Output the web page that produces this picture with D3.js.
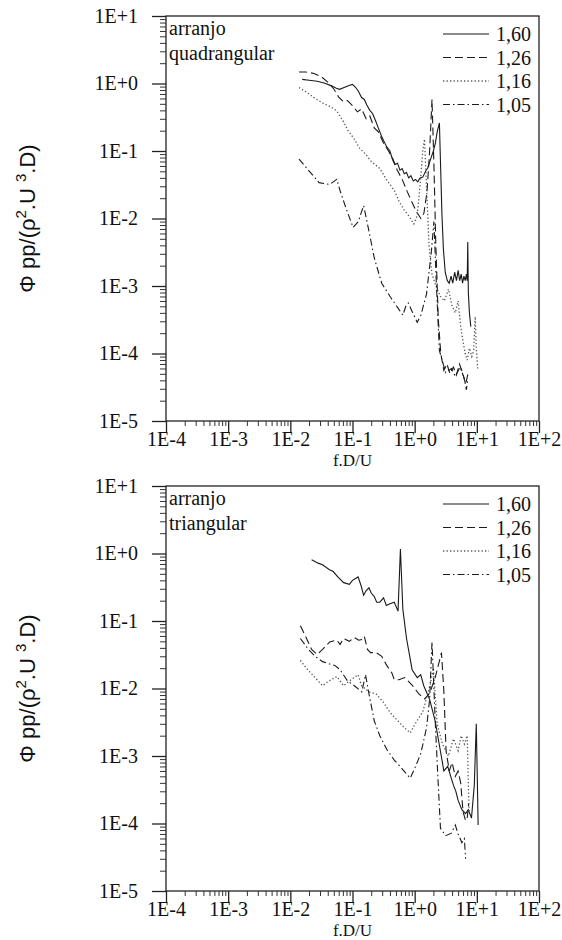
<!DOCTYPE html>
<html>
<head>
<meta charset="utf-8">
<script src="https://cdn.jsdelivr.net/npm/d3@7"></script>
<style>
  body { margin: 0; background: #fff; }
  svg { display: block; }
  text { font-family: "Liberation Serif", "Times New Roman", serif; fill: #111; }
</style>
</head>
<body>
<div id="chart"></div>
<script>
// legend labels (pitch ratio) and tick values
const pitchLabels = ["1,60", "1,26", "1,16", "1,05"];
const xTickValues = [1e-4, 1e-3, 1e-2, 1e-1, 1e0, 1e1, 1e2];
const yTickValues = [1e-5, 1e-4, 1e-3, 1e-2, 1e-1, 1e0, 1e1];

// arranjo quadrangular  [f.D/U, Phi_pp]
const quad160 = [[0.0155,1.15],[0.02,1.12],[0.027,1.08],[0.035,1.02],[0.045,0.93],[0.055,0.85],[0.062,0.82],[0.075,0.88],[0.09,0.94],[0.1,0.97],[0.112,0.88],[0.125,0.76],[0.14,0.62],[0.155,0.58],[0.17,0.48],[0.19,0.40],[0.21,0.36],[0.235,0.28],[0.26,0.22],[0.29,0.17],[0.32,0.14],[0.355,0.115],[0.4,0.10],[0.44,0.075],[0.48,0.063],[0.53,0.066],[0.58,0.052],[0.63,0.055],[0.68,0.046],[0.74,0.048],[0.8,0.040],[0.87,0.043],[0.95,0.036],[1.03,0.038],[1.12,0.035],[1.22,0.040],[1.35,0.041],[1.5,0.050],[1.62,0.056],[1.8,0.075],[2.0,0.10],[2.15,0.13],[2.3,0.19],[2.5,0.26],[2.6,0.07],[2.75,0.011],[2.9,0.0035],[3.1,0.0016],[3.35,0.0012],[3.6,0.0011],[3.85,0.0014],[4.1,0.0011],[4.4,0.0016],[4.7,0.0012],[5.0,0.0017],[5.3,0.0012],[5.6,0.0015],[5.9,0.0011],[6.2,0.0014],[6.5,0.0012],[6.8,0.0015],[7.0,0.0012],[7.15,0.0045],[7.3,0.0008],[7.6,0.0004],[8.0,0.00025]];
const quad126 = [[0.0138,1.48],[0.0178,1.48],[0.024,1.41],[0.0316,1.26],[0.04,1.05],[0.05,0.83],[0.06,0.63],[0.071,0.54],[0.083,0.56],[0.1,0.47],[0.12,0.38],[0.14,0.42],[0.166,0.30],[0.19,0.33],[0.224,0.22],[0.263,0.19],[0.316,0.13],[0.38,0.10],[0.447,0.076],[0.525,0.052],[0.63,0.038],[0.76,0.025],[0.89,0.018],[1.07,0.0126],[1.26,0.010],[1.41,0.012],[1.58,0.025],[1.74,0.10],[1.9,0.58],[2.04,0.063],[2.19,0.004],[2.4,0.00032],[2.63,0.0001],[2.95,0.000056],[3.3,0.00007],[3.7,0.00005],[4.2,0.000063],[4.7,0.000048],[5.25,0.00007],[5.9,0.000052],[6.6,0.000035],[7.2,0.00005]];
const quad116 = [[0.0138,0.87],[0.018,0.75],[0.025,0.60],[0.035,0.50],[0.045,0.45],[0.056,0.39],[0.072,0.27],[0.085,0.20],[0.107,0.15],[0.13,0.11],[0.162,0.09],[0.2,0.07],[0.275,0.055],[0.35,0.038],[0.47,0.026],[0.56,0.018],[0.69,0.013],[0.8,0.011],[0.97,0.0083],[1.1,0.011],[1.25,0.04],[1.35,0.10],[1.44,0.15],[1.55,0.03],[1.7,0.004],[1.9,0.0015],[2.2,0.001],[2.6,0.0007],[3.0,0.0006],[3.5,0.0009],[4.0,0.0005],[4.5,0.0004],[5.0,0.0006],[5.5,0.00025],[6.0,0.00015],[6.5,0.0001],[7.0,0.00008],[7.6,0.00012],[8.3,0.00009],[8.9,0.00011],[9.4,0.00035],[9.8,0.00012],[10.3,0.00006]];
const quad105 = [[0.0138,0.076],[0.0195,0.052],[0.029,0.034],[0.043,0.032],[0.056,0.038],[0.063,0.026],[0.078,0.0145],[0.102,0.0074],[0.123,0.0089],[0.151,0.0155],[0.186,0.0062],[0.224,0.0026],[0.295,0.0011],[0.41,0.00068],[0.5,0.00052],[0.54,0.00047],[0.645,0.00037],[0.72,0.0005],[0.79,0.00056],[0.91,0.00042],[1.1,0.00029],[1.26,0.00037],[1.55,0.00076],[1.86,0.0033],[2.04,0.009],[2.24,0.001],[2.5,0.00011],[3.16,0.000052],[3.9,0.00006],[4.5,0.000046],[5.4,0.000063],[6.3,0.000042],[6.8,0.000029],[7.1,0.00004]];

// arranjo triangular  [f.D/U, Phi_pp]
const tri160 = [[0.022,0.81],[0.028,0.72],[0.033,0.68],[0.042,0.58],[0.049,0.54],[0.058,0.45],[0.072,0.37],[0.089,0.35],[0.1,0.40],[0.123,0.45],[0.138,0.33],[0.151,0.24],[0.165,0.28],[0.184,0.31],[0.2,0.26],[0.224,0.23],[0.245,0.19],[0.275,0.19],[0.316,0.22],[0.35,0.17],[0.4,0.18],[0.47,0.19],[0.54,0.14],[0.59,1.17],[0.645,0.15],[0.74,0.055],[0.91,0.019],[1.1,0.0145],[1.25,0.016],[1.4,0.011],[1.74,0.0069],[2.14,0.0033],[2.45,0.0016],[2.95,0.0006],[3.4,0.0007],[3.8,0.0005],[4.2,0.00037],[4.6,0.0003],[5.0,0.00022],[5.75,0.00016],[6.6,0.00014],[7.3,0.00016],[8.2,0.00012],[9.1,0.00037],[9.8,0.003],[10.5,0.000095]];
const tri126 = [[0.0145,0.085],[0.017,0.063],[0.022,0.038],[0.027,0.032],[0.033,0.038],[0.043,0.049],[0.056,0.052],[0.063,0.045],[0.072,0.055],[0.089,0.050],[0.107,0.057],[0.126,0.052],[0.141,0.053],[0.155,0.059],[0.174,0.038],[0.195,0.034],[0.24,0.034],[0.295,0.030],[0.355,0.022],[0.43,0.017],[0.47,0.0135],[0.56,0.0135],[0.69,0.0145],[0.91,0.0112],[1.17,0.0083],[1.45,0.007],[1.74,0.0085],[2.14,0.0145],[2.7,0.034],[2.95,0.009],[3.2,0.0012],[3.6,0.0006],[4.0,0.0008],[4.5,0.0005],[5.0,0.0006],[5.5,0.0004],[6.0,0.00015],[6.6,0.00011],[7.0,0.00012],[7.4,0.0002]];
const tri116 = [[0.0145,0.026],[0.019,0.019],[0.025,0.0145],[0.033,0.011],[0.042,0.013],[0.056,0.015],[0.072,0.011],[0.09,0.013],[0.123,0.016],[0.14,0.011],[0.184,0.0089],[0.24,0.0083],[0.316,0.0062],[0.41,0.0043],[0.54,0.0033],[0.69,0.0026],[0.85,0.0022],[1.02,0.003],[1.35,0.0045],[1.6,0.008],[1.8,0.012],[2.0,0.02],[2.3,0.003],[2.8,0.0015],[3.5,0.001],[4.2,0.0018],[5.0,0.0012],[5.6,0.002],[6.3,0.0015],[7.0,0.002],[7.3,0.0004],[7.5,0.00015]];
const tri105 = [[0.0145,0.055],[0.0195,0.038],[0.025,0.030],[0.033,0.025],[0.043,0.023],[0.052,0.022],[0.063,0.019],[0.083,0.013],[0.107,0.011],[0.141,0.0089],[0.162,0.016],[0.186,0.0079],[0.224,0.0033],[0.275,0.002],[0.355,0.00126],[0.47,0.00087],[0.6,0.00068],[0.74,0.00054],[0.85,0.00047],[1.02,0.00068],[1.26,0.0011],[1.55,0.0026],[1.74,0.0069],[1.9,0.049],[2.14,0.0033],[2.35,0.00054],[2.6,0.000085],[3.16,0.000066],[3.9,0.000072],[4.5,0.000095],[5.0,0.00007],[5.75,0.000052],[6.3,0.00006],[6.6,0.00003]];

const dashStyles = [null, "8,4", "1.3,2.2", "7,3,1.5,3"];
const lineColors = ["#1a1a1a", "#1a1a1a", "#555", "#1a1a1a"];

const panels = [
  { top: 16, bottom: 421, title: ["arranjo", "quadrangular"], series: [quad160, quad126, quad116, quad105] },
  { top: 486, bottom: 891, title: ["arranjo", "triangular"], series: [tri160, tri126, tri116, tri105] }
];

const width = 562, height = 940;
const left = 166, right = 539;

const svg = d3.select("#chart").append("svg")
  .attr("width", width)
  .attr("height", height)
  .attr("viewBox", [0, 0, width, height]);

const expFormat = d => {
  const e = Math.round(Math.log10(d));
  return "1E" + (e >= 0 ? "+" + e : e);
};

function minorTicks(lo, hi) {
  const out = [];
  for (let e = lo; e < hi; ++e)
    for (let m = 2; m <= 9; ++m) out.push(m * Math.pow(10, e));
  return out;
}

panels.forEach(p => {
  const g = svg.append("g");
  const x = d3.scaleLog().domain([1e-4, 1e2]).range([left, right]);
  const y = d3.scaleLog().domain([1e-5, 1e1]).range([p.bottom, p.top]);

  // frame
  g.append("rect")
    .attr("x", left).attr("y", p.top)
    .attr("width", right - left).attr("height", p.bottom - p.top)
    .attr("fill", "none").attr("stroke", "#222").attr("stroke-width", 1.3);

  // y axis: minor + major
  g.append("g").attr("transform", `translate(${left},0)`)
    .call(d3.axisLeft(y).tickValues(minorTicks(-5, 1)).tickSize(6).tickFormat(""))
    .call(a => a.select(".domain").remove())
    .call(a => a.selectAll("line").attr("stroke", "#333"));
  g.append("g").attr("transform", `translate(${left},0)`)
    .call(d3.axisLeft(y).tickValues(yTickValues).tickSize(14).tickPadding(14).tickFormat(expFormat))
    .call(a => a.select(".domain").remove())
    .call(a => a.selectAll("line").attr("stroke", "#222").attr("stroke-width", 1.3))
    .call(a => a.selectAll("text").attr("font-size", 20).attr("font-family", "Liberation Serif").attr("fill", "#111"));

  // x axis: minor + major
  g.append("g").attr("transform", `translate(0,${p.bottom})`)
    .call(d3.axisBottom(x).tickValues(minorTicks(-4, 2)).tickSize(5).tickFormat(""))
    .call(a => a.select(".domain").remove())
    .call(a => a.selectAll("line").attr("stroke", "#333"));
  g.append("g").attr("transform", `translate(0,${p.bottom})`)
    .call(d3.axisBottom(x).tickValues(xTickValues).tickSize(12).tickFormat(expFormat))
    .call(a => a.select(".domain").remove())
    .call(a => a.selectAll("line").attr("stroke", "#222").attr("stroke-width", 1.3))
    .call(a => a.selectAll("text").attr("y", 11).attr("font-size", 20).attr("font-family", "Liberation Serif").attr("fill", "#111"));

  // axis titles
  g.append("text")
    .attr("x", (left + right) / 2).attr("y", p.bottom + 45)
    .attr("text-anchor", "middle").attr("font-size", 17)
    .text("f.D/U");

  const yt = g.append("text")
    .attr("transform", `translate(35,${(p.top + p.bottom) / 2}) rotate(-90)`)
    .attr("text-anchor", "middle")
    .attr("font-size", 22)
    .style("font-family", "'Liberation Sans', Arial, sans-serif");
  yt.append("tspan").text("Φ ");
  yt.append("tspan").text("pp/(ρ");
  yt.append("tspan").attr("dy", -9).attr("font-size", 15).text("2");
  yt.append("tspan").attr("dy", 9).text(".U ");
  yt.append("tspan").attr("dy", -9).attr("font-size", 15).text("3");
  yt.append("tspan").attr("dy", 9).text(".D)");

  // annotation
  p.title.forEach((t, i) => {
    g.append("text")
      .attr("x", left + 3).attr("y", p.top + 19 + i * 25)
      .attr("font-size", 20)
      .text(t);
  });

  // curves
  const line = d3.line().x(d => x(d[0])).y(d => y(d[1]));
  p.series.forEach((s, i) => {
    g.append("path")
      .datum(s)
      .attr("d", line)
      .attr("fill", "none")
      .attr("stroke", lineColors[i])
      .attr("stroke-width", i === 2 ? 1.3 : 1.1)
      .attr("stroke-dasharray", dashStyles[i]);
  });

  // legend
  const lg = g.append("g");
  pitchLabels.forEach((lab, i) => {
    const ly = p.top + 18 + i * 23.5;
    lg.append("line")
      .attr("x1", 443).attr("x2", 489).attr("y1", ly).attr("y2", ly)
      .attr("stroke", lineColors[i]).attr("stroke-width", i === 2 ? 1.3 : 1.1)
      .attr("stroke-dasharray", dashStyles[i]);
    lg.append("text")
      .attr("x", 496).attr("y", ly).attr("dy", "0.35em")
      .attr("font-size", 20)
      .text(lab);
  });
});
</script>
</body>
</html>
